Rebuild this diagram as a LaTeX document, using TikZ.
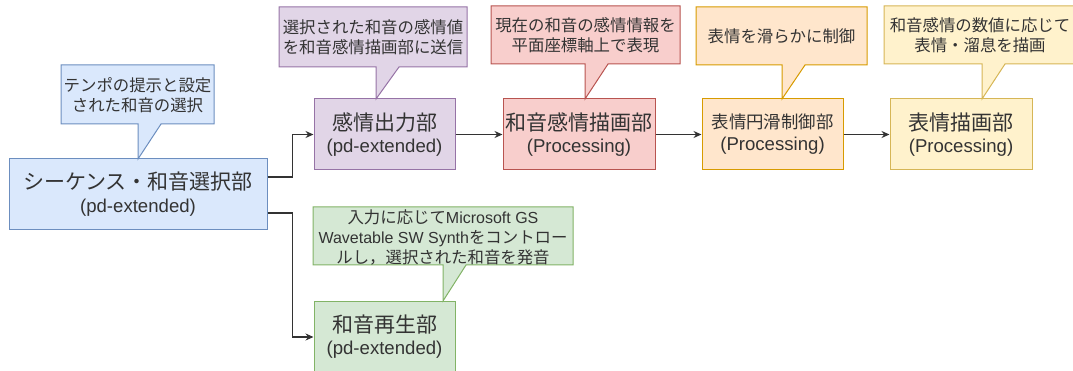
\documentclass[tikz,border=0pt]{standalone}
\usepackage{fontspec}
\setmainfont{Liberation Sans}
\newfontfamily\jpf{Noto Sans CJK JP}
\usetikzlibrary{arrows.meta}
\definecolor{txt}{HTML}{333333}
\definecolor{bF}{HTML}{DAE8FC}\definecolor{bS}{HTML}{6C8EBF}
\definecolor{pF}{HTML}{E1D5E7}\definecolor{pS}{HTML}{9673A6}
\definecolor{rF}{HTML}{F8CECC}\definecolor{rS}{HTML}{B85450}
\definecolor{oF}{HTML}{FFE6CC}\definecolor{oS}{HTML}{D79B00}
\definecolor{yF}{HTML}{FFF2CC}\definecolor{yS}{HTML}{D6B656}
\definecolor{gF}{HTML}{D5E8D4}\definecolor{gS}{HTML}{82B366}
\newcommand\bj[1]{{\fontsize{21}{22}\jpf #1}}
\newcommand\bjs[1]{{\fontsize{17.4}{22}\jpf #1}}
\newcommand\cj[1]{{\fontsize{16.4}{20}\jpf #1}}
\newcommand\callout[8]{%
  \draw[fill=#1, draw=#2, line width=1pt, line join=miter]
    (#3,#4) -- (#5,#4) -- (#5,#6) -- (#7+23,#6) -- (#7,#8) -- (#7,#6) -- (#3,#6) -- cycle;}
\tikzset{
  box/.style n args={2}{draw=#2, fill=#1, line width=1pt, inner sep=0pt, align=center,
    text=txt, font=\fontsize{18.6}{22}\selectfont},
  ctext/.style={inner sep=0pt, align=center, text=txt, font=\fontsize{16}{20}\selectfont},
  conn/.style={draw=txt, line width=1.2pt, -{Stealth[length=8pt,width=7pt]}}
}
\begin{document}
\begin{tikzpicture}[x=1pt,y=-1pt]
\useasboundingbox (0,0) rectangle (1073,371);
% boxes
\node[box={bF}{bS}, minimum width=258, minimum height=71] (seq) at (138,194.5)
  {\bj{シーケンス・和音選択部}\\[1pt](pd-extended)};
\node[box={pF}{pS}, minimum width=141, minimum height=71] (out) at (384.5,134.5)
  {\bj{感情出力部}\\(pd-extended)};
\node[box={rF}{rS}, minimum width=152, minimum height=71] (drw) at (579,134.5)
  {\bj{和音感情描画部}\\(Processing)};
\node[box={oF}{oS}, minimum width=141, minimum height=71] (smo) at (772.5,134.5)
  {\bjs{表情円滑制御部}\\(Processing)};
\node[box={yF}{yS}, minimum width=142, minimum height=71] (face) at (961,134.5)
  {\bj{表情描画部}\\(Processing)};
\node[box={gF}{gS}, minimum width=141, minimum height=72] (play) at (384.5,337)
  {\bj{和音再生部}\\(pd-extended)};
% callouts
\callout{bF}{bS}{61}{65}{214}{124}{138}{159}
\node[ctext] (c1) at (137.5,95) {\cj{テンポの提示と設定}\\\cj{された和音の選択}};
\callout{pF}{pS}{279}{7}{467}{67}{376}{99}
\node[ctext] (c2) at (373,37) {\cj{選択された和音の感情値}\\\cj{を和音感情描画部に送信}};
\callout{rF}{rS}{491}{6}{680}{64}{585}{99}
\node[ctext] (c3) at (585.5,35) {\cj{現在の和音の感情情報を}\\\cj{平面座標軸上で表現}};
\callout{oF}{oS}{696}{7}{867}{65}{782}{99}
\node[ctext] (c4) at (781.5,36) {\cj{表情を滑らかに制御}};
\callout{yF}{yS}{884}{6}{1076}{64}{982}{99}
\node[ctext] (c5) at (980,35) {\cj{和音感情の数値に応じて}\\\cj{表情・溜息を描画}};
\callout{gF}{gS}{313}{207}{573}{265}{443}{301}
\node[ctext] (c6) at (443,237) {\cj{入力に応じて}Microsoft GS\\Wavetable SW Synth\cj{をコントロー}\\\cj{ルし，選択された和音を発音}};
% connectors
\draw[conn] ([yshift=17.5pt]seq.east) -- ++(25,0) |- (out.west);
\draw[conn] ([yshift=-18.5pt]seq.east) -- ++(25,0) |- (play.west);
\draw[conn] (out.east) -- (drw.west);
\draw[conn] (drw.east) -- (smo.west);
\draw[conn] (smo.east) -- (face.west);
\end{tikzpicture}
\end{document}
